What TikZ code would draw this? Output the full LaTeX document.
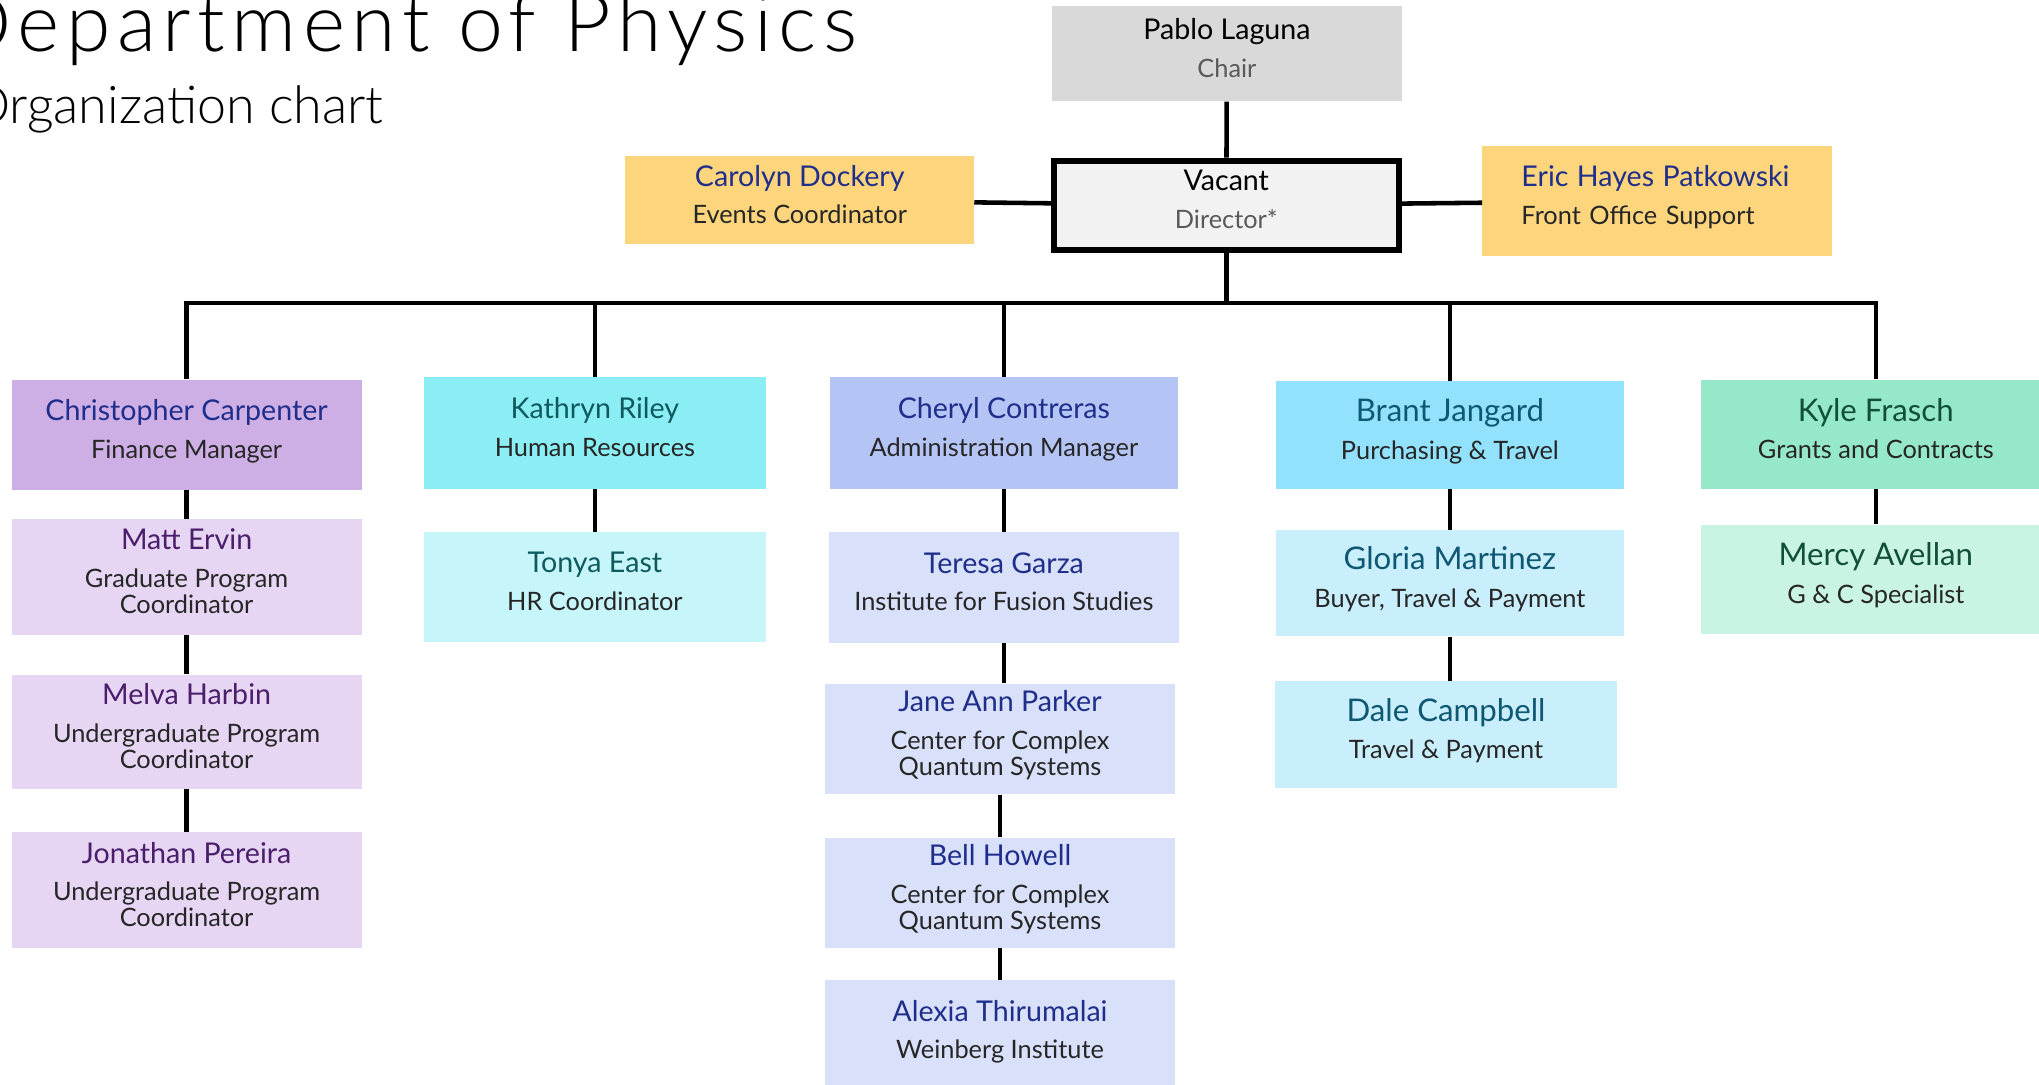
\documentclass[tikz,border=0pt]{standalone}
\usepackage{fontspec}
\setmainfont{Lato}
\newfontfamily\headfont[LetterSpace=8]{Lato Light}
\newfontfamily\subfont{Lato Light}
\usetikzlibrary{positioning}
\definecolor{ink}{HTML}{262626}
\definecolor{soft}{HTML}{595959}
\definecolor{navy}{HTML}{1F2E8A}
\definecolor{plum}{HTML}{4A1E6A}
\definecolor{teal}{HTML}{0E5A5E}
\definecolor{petrol}{HTML}{0F5872}
\definecolor{pine}{HTML}{114F3A}
\definecolor{chairgray}{HTML}{D9D9D9}
\definecolor{dirgray}{HTML}{F2F2F2}
\definecolor{gold}{HTML}{FDD57C}
\definecolor{purpA}{HTML}{CDAFE6}
\definecolor{purpB}{HTML}{E6D5F3}
\definecolor{cyanA}{HTML}{8CEEF5}
\definecolor{cyanB}{HTML}{C6F6FA}
\definecolor{periA}{HTML}{B4C4F4}
\definecolor{periB}{HTML}{D9E0FA}
\definecolor{skyA}{HTML}{93E2FD}
\definecolor{skyB}{HTML}{C9EFFD}
\definecolor{mintA}{HTML}{95E9C9}
\definecolor{mintB}{HTML}{C9F3E2}
\newcommand{\nm}[1]{{\color{namecol}\fontsize{\namesize}{\namesize}\selectfont #1}\\[9pt]}
\tikzstyle{box} = [rectangle,inner sep=0pt,minimum width=269pt,minimum height=85pt,align=center,font=\fontsize{19.5}{20}\selectfont,text=ink,execute at end node={\rule[-9pt]{0pt}{0pt}}]
\tikzstyle{lead} = [box,execute at begin node={\colorlet{namecol}{navy}\def\namesize{22}}]
\tikzstyle{purpsub} = [box,fill=purpB,execute at begin node={\colorlet{namecol}{plum}\def\namesize{22}}]
\tikzstyle{cyansub} = [box,execute at begin node={\colorlet{namecol}{teal}\def\namesize{22}}]
\tikzstyle{skysub} = [box,execute at begin node={\colorlet{namecol}{petrol}\def\namesize{24}}]
\tikzstyle{mintsub} = [box,execute at begin node={\colorlet{namecol}{pine}\def\namesize{24}}]
\tikzstyle{link} = [line width=3.5pt]

\begin{document}
\begin{tikzpicture}[x=1pt,y=1pt]
	\useasboundingbox (0,0) rectangle (1568,834);

	% heading
	\node[anchor=base west,inner sep=0pt,font=\headfont\fontsize{62}{62}\selectfont](ttl) at (-38,794) {Department of Physics};
	\node[anchor=base west,inner sep=0pt,font=\subfont\fontsize{40}{40}\selectfont](sub) at (-24,739) {Organization chart};

	% top
	\node[box,fill=chairgray,minimum height=73pt](pl) at (943.5,792.5) {{\color{black}\fontsize{22}{22}\selectfont Pablo Laguna}\\[9pt]\color{soft}Chair};
	\node[box,fill=dirgray,draw=black,line width=4.5pt,minimum width=265pt,minimum height=69pt](vac) at (943,676) {{\color{black}\fontsize{22}{22}\selectfont Vacant}\\[9pt]\color{soft}Director*};
	\node[lead,fill=gold,minimum width=268pt,minimum height=68pt](cd) at (615,680) {\nm{Carolyn Dockery}Events Coordinator};
	\node[lead,fill=gold,align=left,text width=209pt](eh) at (1274.5,679.5) {\nm{\mbox{Eric Hayes Patkowski}}Front Office Support};

	% heads
	\node[lead,fill=purpA](cc) at (143.5,499.5) {\nm{Christopher Carpenter}Finance Manager};
	\node[cyansub,fill=cyanA,minimum width=263pt,minimum height=86pt](kr) at (457.5,501) {\nm{Kathryn Riley}Human Resources};
	\node[lead,fill=periA,minimum width=268pt,minimum height=86pt](ch) at (772,501) {\nm{Cheryl Contreras}Administration Manager};
	\node[skysub,fill=skyA,minimum width=268pt,minimum height=83pt](bj) at (1115,499.5) {\nm{Brant Jangard}Purchasing \& Travel};
	\node[mintsub,fill=mintA,minimum height=84pt](kf) at (1442.5,500) {\nm{Kyle Frasch}Grants and Contracts};

	% staff
	\node[purpsub,minimum height=89pt,below=22pt of cc](me) {\nm{Matt Ervin}Graduate Program\\Coordinator};
	\node[purpsub,minimum height=88pt,below=30pt of me](mh) {\nm{Melva Harbin}Undergraduate Program\\Coordinator};
	\node[purpsub,minimum height=89pt,below=33pt of mh](jp) {\nm{Jonathan Pereira}Undergraduate Program\\Coordinator};
	\node[cyansub,fill=cyanB,minimum width=263pt,minimum height=84pt,below=33pt of kr](te) {\nm{Tonya East}HR Coordinator};
	\node[lead,fill=periB,below=33pt of ch](tg) {\nm{Teresa Garza}Institute for Fusion Studies};
	\node[lead,fill=periB,below=31pt of tg,xshift=-3pt](jap) {\nm{Jane Ann Parker}Center for Complex\\Quantum Systems};
	\node[lead,fill=periB,below=33pt of jap](bh) {\nm{Bell Howell}Center for Complex\\Quantum Systems};
	\node[lead,fill=periB,below=24pt of bh](ath) {\nm{Alexia Thirumalai}Weinberg Institute};
	\node[skysub,fill=skyB,minimum width=268pt,minimum height=82pt,below=31pt of bj](gm) {\nm{Gloria Martinez}Buyer, Travel \& Payment};
	\node[skysub,fill=skyB,minimum width=263pt,minimum height=82pt,below=34pt of gm,xshift=-3pt](dc) {\nm{Dale Campbell}Travel \& Payment};
	\node[mintsub,fill=mintB,minimum height=84pt,below=27pt of kf](ma) {\nm{Mercy Avellan}G \& C Specialist};

	% lines
	\coordinate (bus) at (943,601);
	\draw[link] (pl) -- (vac);
	\draw[link] (cd) -- (vac);
	\draw[link] (vac) -- (eh);
	\draw[link] (vac.south) -- (bus);
	\draw[link] (cc.north) -- (cc.north |- bus) -- (kf.north |- bus) -- (kf.north);
	\draw[link] (kr.north) -- (kr.north |- bus);
	\draw[link] (ch.north) -- (ch.north |- bus);
	\draw[link] (bj.north) -- (bj.north |- bus);
	\draw[link] (cc) -- (me);
	\draw[link] (me) -- (mh);
	\draw[link] (mh) -- (jp);
	\draw[link] (kr) -- (te);
	\draw[link] (ch) -- (tg);
	\draw[link] (tg.south) -- (tg.south |- jap.north);
	\draw[link] (jap) -- (bh);
	\draw[link] (bh) -- (ath);
	\draw[link] (bj) -- (gm);
	\draw[link] (gm.south) -- (gm.south |- dc.north);
	\draw[link] (kf) -- (ma);

\end{tikzpicture}
\end{document}
